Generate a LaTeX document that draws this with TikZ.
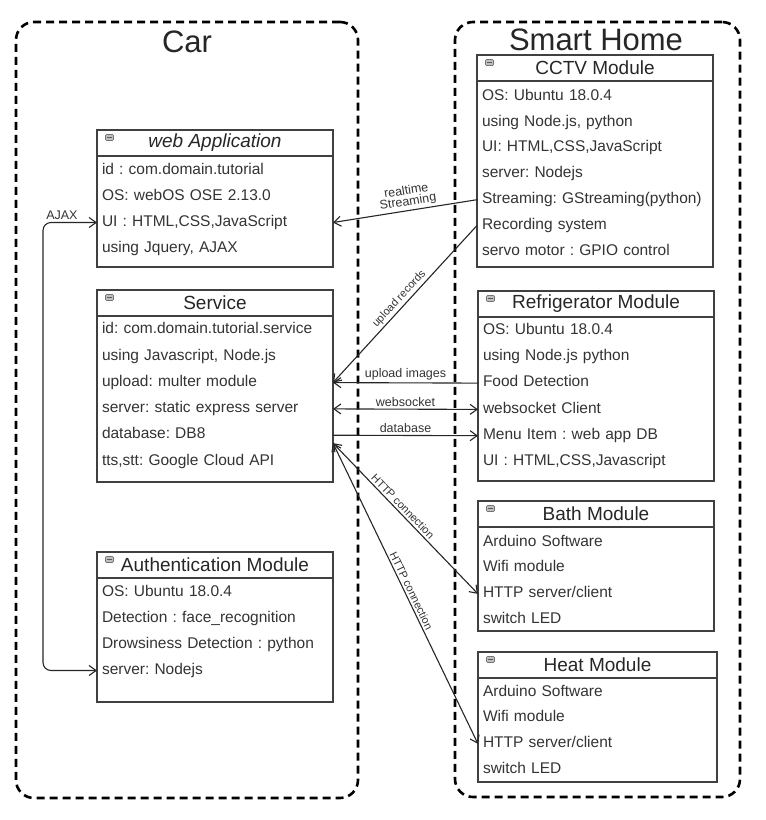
\documentclass[tikz,border=0pt]{standalone}
\usepackage{fontspec}
\setmainfont{Liberation Sans}
\usetikzlibrary{positioning, calc, arrows.meta}
\frenchspacing

\newcommand{\rowfont}{\fontsize{15.5}{17}\selectfont}
\newcommand{\headfont}{\fontsize{19}{22}\selectfont}
\newcommand{\groupfont}{\fontsize{31}{35}\selectfont}

\begin{document}
\begin{tikzpicture}[x=1pt, y=-1pt, >={Straight Barb[length=7pt,width=10pt]},
  group/.style={draw, line width=2.6pt, dash pattern=on 8pt off 5pt, rounded corners=18pt, anchor=north west, inner sep=0, outer sep=0},
  gtitle/.style={font=\groupfont, text=black!85},
  head/.style={draw=black!75, line width=1.3pt, minimum width=236pt, minimum height=26pt, anchor=north west, inner sep=0, outer sep=0, font=\headfont, text=black!85},
  body/.style={draw=black!75, line width=1.3pt, minimum width=236pt, below=0pt of #1, inner sep=0, outer sep=0},
  row/.style={anchor=west, text width=226pt, text height=11pt, text depth=3.5pt, inner xsep=5pt, inner ysep=0pt, outer sep=0, align=left, font=\rowfont, text=black!80},
  minus/.style={draw=black!55, fill=black!25, line width=0.6pt, rounded corners=1pt, minimum width=8pt, minimum height=6pt, inner sep=0,
    path picture={\draw[black!65, line width=0.6pt] ([xshift=1.5pt]path picture bounding box.west) -- ([xshift=-1.5pt]path picture bounding box.east);}},
  lbl/.style={font=\fontsize{12.5}{11}\selectfont, text=black!80, inner sep=2pt, align=center},
  slbl/.style={font=\fontsize{11}{11}\selectfont, text=black!80, inner sep=2pt, sloped},
  link/.style={draw=black!85, line width=1.1pt}]
\useasboundingbox (0,0) rectangle (766,820);

% groups
\node[group, minimum width=342pt, minimum height=776pt] (car) at (16,22) {};
\node[group, minimum width=285pt, minimum height=775pt] (home) at (455,22) {};
\node[gtitle] (carT) at (187,42) {Car};
\node[gtitle] (homeT) at (596,40) {Smart Home};

% car side
\node[head] (webT) at (97,130) {\itshape web Application};
\node[body=webT, minimum height=111pt] (web) {};
\node[minus] (webM) at ($(webT.north west)+(12.5,7.5)$) {};
\foreach \txt [count=\i] in {{id : com.domain.tutorial}, {OS: webOS OSE 2.13.0}, {UI : HTML,CSS,JavaScript}, {using Jquery, AJAX}}
  \node[row] (web-\i) at ($(web.north west)+(0,{14.5+26*(\i-1)})$) {\txt};

\node[head] (svcT) at (97,290) {Service};
\node[body=svcT, minimum height=166pt] (svc) {};
\node[minus] (svcM) at ($(svcT.north west)+(12.5,7.5)$) {};
\foreach \txt [count=\i] in {{id: com.domain.tutorial.service}, {using Javascript, Node.js}, {upload: multer module}, {server: static express server}, {database: DB8}, {tts,stt: Google Cloud API}}
  \node[row] (svc-\i) at ($(svc.north west)+(0,{14+26.3*(\i-1)})$) {\txt};

\node[head] (authT) at (97,552) {Authentication Module};
\node[body=authT, minimum height=124pt] (auth) {};
\node[minus] (authM) at ($(authT.north west)+(12.5,7.5)$) {};
\foreach \txt [count=\i] in {{OS: Ubuntu 18.0.4}, {Detection : face\_recognition}, {Drowsiness Detection : python}, {server: Nodejs}}
  \node[row] (auth-\i) at ($(auth.north west)+(0,{14.5+26*(\i-1)})$) {\txt};

% smart home side
\node[head] (cctvT) at (477,55) {CCTV Module};
\node[body=cctvT, minimum height=186pt] (cctv) {};
\node[minus] (cctvM) at ($(cctvT.north west)+(12.5,7.5)$) {};
\foreach \txt [count=\i] in {{OS: Ubuntu 18.0.4}, {using Node.js, python}, {UI: HTML,CSS,JavaScript}, {server: Nodejs}, {Streaming: GStreaming(python)}, {Recording system}, {servo motor : GPIO control}}
  \node[row] (cctv-\i) at ($(cctv.north west)+(0,{15.5+25.8*(\i-1)})$) {\txt};

\node[head] (fridgeT) at (478,291) {Refrigerator Module};
\node[body=fridgeT, minimum height=164pt] (fridge) {};
\node[minus] (fridgeM) at ($(fridgeT.north west)+(12.5,7.5)$) {};
\foreach \txt [count=\i] in {{OS: Ubuntu 18.0.4}, {using Node.js python}, {Food Detection}, {websocket Client}, {Menu Item : web app DB}, {UI : HTML,CSS,Javascript}}
  \node[row] (fridge-\i) at ($(fridge.north west)+(0,{13.5+26.3*(\i-1)})$) {\txt};

\node[head] (bathT) at (478,501) {Bath Module};
\node[body=bathT, minimum height=104pt] (bath) {};
\node[minus] (bathM) at ($(bathT.north west)+(12.5,7.5)$) {};
\foreach \txt [count=\i] in {{Arduino Software}, {Wifi module}, {HTTP server/client}, {switch LED}}
  \node[row] (bath-\i) at ($(bath.north west)+(0,{15.5+25.7*(\i-1)})$) {\txt};

\node[head, minimum width=239pt] (heatT) at (478,652) {Heat Module};
\node[body=heatT, minimum width=239pt, minimum height=104pt] (heat) {};
\node[minus] (heatM) at ($(heatT.north west)+(12.5,7.5)$) {};
\foreach \txt [count=\i] in {{Arduino Software}, {Wifi module}, {HTTP server/client}, {switch LED}}
  \node[row] (heat-\i) at ($(heat.north west)+(0,{14.5+25.7*(\i-1)})$) {\txt};

% connectors
\coordinate (ajax) at (43,440);
\coordinate (svcHttp) at ($(svc-5.east)!0.3!(svc-6.east)$);
\draw[link, <->, rounded corners=8pt] (auth-4.west) -| (ajax) -- (ajax |- web-3.west) -- node[lbl, above, pos=0.35] {AJAX} (web-3.west);
\draw[link, ->] (cctv-5.west) -- node[lbl, sloped, above, pos=0.47] {realtime\\Streaming} (web-3.east);
\draw[link, ->] (cctv-6.west) -- node[slbl, above, pos=0.5] {upload records} (svc-3.east);
\draw[link, ->] (fridge-3.west) -- node[lbl, above] {upload images} (svc-3.east);
\draw[link, <->] (svc-4.east) -- node[lbl, above] {websocket} (fridge-4.west);
\draw[link, ->] (svc-5.east) -- node[lbl, above] {database} (fridge-5.west);
\draw[link, <->] (svcHttp) -- node[slbl, above, pos=0.45] {HTTP connection} (bath-3.west);
\draw[link, <->] (svcHttp) -- node[slbl, above, pos=0.5] {HTTP connection} (heat-3.west);
\end{tikzpicture}
\end{document}
